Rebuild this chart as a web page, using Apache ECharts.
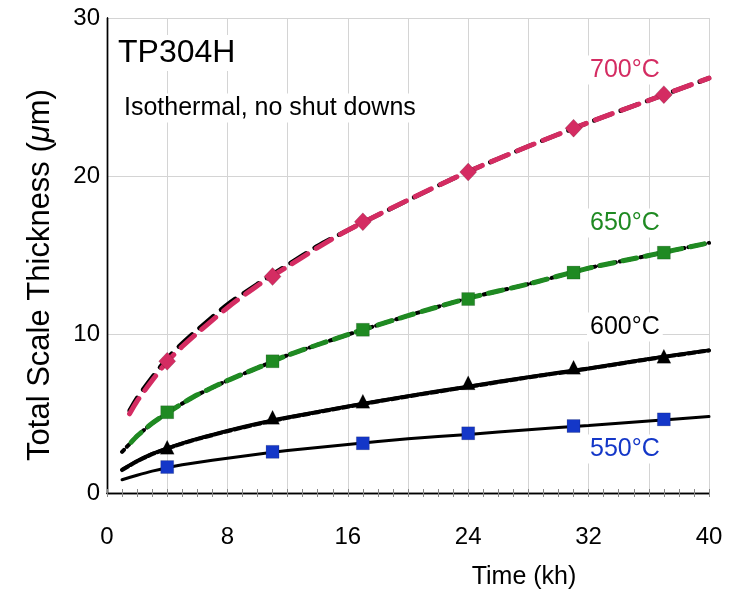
<!DOCTYPE html>
<html>
<head>
<meta charset="utf-8">
<script src="https://cdn.jsdelivr.net/npm/echarts@6/dist/echarts.min.js"></script>
<style>
  html, body { margin: 0; padding: 0; background: #fff; }
  #chart { width: 731px; height: 593px; }
</style>
</head>
<body>
<div id="chart"></div>
<script>
// Measured scale thickness (µm) of TP304H vs exposure time (kh)
const measTime = [4, 11, 17, 24, 31, 37];
const meas700 = [8.32, 13.67, 17.13, 20.27, 23.04, 25.16];
const meas650 = [5.1, 8.32, 10.31, 12.25, 13.92, 15.18];
const meas600 = [2.89, 4.78, 5.8, 6.96, 7.94, 8.64];
const meas550 = [1.64, 2.6, 3.14, 3.77, 4.23, 4.65];

// Fitted growth curves
const fitTime700 = [1.5, 2, 3, 4, 5, 6, 8, 10, 12, 14, 16, 20, 24, 28, 32, 36, 40];
const fit700 = [5.0, 5.8, 7.1, 8.3, 9.25, 10.1, 11.7, 13.1, 14.3, 15.5, 16.6, 18.5, 20.3, 21.9, 23.4, 24.8, 26.2];
const fit700b = [5.2, 6.0, 7.3, 8.5, 9.45, 10.3, 11.9, 13.2, 14.4, 15.6, 16.6, 18.5, 20.3, 21.9, 23.4, 24.8, 26.2];

const fitTime650 = [1.6, 2, 3, 4, 5, 6, 8, 10, 12, 16, 20, 24, 28, 32, 36, 40];
const fit650 = [3.2, 3.6, 4.4, 5.05, 5.65, 6.2, 7.1, 7.9, 8.7, 10.0, 11.2, 12.3, 13.2, 14.2, 15.0, 15.8];
const fitTime650b = [1, 1.6, 2, 3, 4, 5, 6, 8, 10, 12, 16, 20, 24, 28, 32, 36, 40];
const fit650b = [2.6, 3.2, 3.6, 4.4, 5.05, 5.65, 6.2, 7.1, 7.9, 8.7, 10.0, 11.2, 12.3, 13.2, 14.2, 15.0, 15.8];

const fitTime = [1, 2, 3, 4, 5, 6, 8, 10, 12, 16, 20, 24, 28, 32, 36, 40];
const fit600 = [1.5, 2.05, 2.5, 2.85, 3.17, 3.45, 3.95, 4.4, 4.8, 5.5, 6.15, 6.75, 7.35, 7.9, 8.5, 9.03];
const fit600b = [1.45, 2.0, 2.45, 2.8, 3.12, 3.4, 3.9, 4.35, 4.75, 5.45, 6.1, 6.7, 7.3, 7.85, 8.45, 9.0];
const fit550 = [0.84, 1.12, 1.38, 1.6, 1.78, 1.93, 2.2, 2.45, 2.68, 3.07, 3.42, 3.7, 4.0, 4.27, 4.55, 4.83];

const xTicks = [0, 8, 16, 24, 32, 40];
const yTicks = [0, 10, 20, 30];

const PINK = '#d42c62';
const GREEN = '#1f8a22';
const BLUE = '#1437c8';
const FONT = '"Liberation Sans", Arial, Helvetica, sans-serif';

const zip = (xs, ys) => xs.map((x, i) => [x, ys[i]]);

function curve(xs, ys, color, width, type, z, offset) {
  return {
    type: 'line', data: zip(xs, ys), symbol: 'none', smooth: 0.25,
    lineStyle: { color: color, width: width, type: type, cap: 'round', dashOffset: offset || 0 },
    z: z, silent: true
  };
}
function marks(ys, symbol, size, color) {
  return {
    type: 'scatter', data: zip(measTime, ys), symbol: symbol, symbolSize: size,
    itemStyle: { color: color, opacity: 1, borderColor: 'rgba(0,0,0,0.3)', borderWidth: 0.5 },
    z: 10, silent: true
  };
}
function tag(text, x, y, color, size) {
  return {
    type: 'text', x: x, y: y, z: 5,
    style: {
      text: text, fill: color, font: size + 'px ' + FONT,
      verticalAlign: 'middle', backgroundColor: '#fff', padding: [2, 3]
    }
  };
}

const chart = echarts.init(document.getElementById('chart'));
chart.setOption({
  backgroundColor: '#fff',
  animation: false,
  grid: { left: 107, right: 22, top: 18, bottom: 100, containLabel: false },
  xAxis: [{
    type: 'value', min: 0, max: 40, interval: 4,
    axisLine: { show: true, lineStyle: { color: '#000', width: 1.4 } },
    axisTick: { show: true, inside: true, length: 4, lineStyle: { color: '#888' } },
    minorTick: { show: true, splitNumber: 4, length: 4, lineStyle: { color: '#888' } },
    splitLine: { show: true, lineStyle: { color: '#d4d4d4', width: 1 } },
    axisLabel: {
      color: '#000', fontSize: 24, fontFamily: FONT, margin: 32,
      formatter: v => (xTicks.indexOf(v) >= 0 ? String(v) : '')
    }
  }, {
    type: 'value', min: 0, max: 40, interval: 4, position: 'top',
    axisLine: { show: true, lineStyle: { color: '#000', width: 1.4 } },
    axisTick: { show: true, inside: true, length: 4, lineStyle: { color: '#888' } },
    minorTick: { show: true, splitNumber: 4, length: 4, lineStyle: { color: '#888' } },
    splitLine: { show: false }, axisLabel: { show: false }
  }],
  yAxis: [{
    type: 'value', min: 0, max: 30, interval: 10,
    axisLine: { show: true, lineStyle: { color: '#000', width: 1.4 } },
    axisTick: { show: false },
    splitLine: { show: true, lineStyle: { color: '#d4d4d4', width: 1 } },
    axisLabel: {
      color: '#000', fontSize: 24, fontFamily: FONT, margin: 7,
      formatter: v => (yTicks.indexOf(v) >= 0 ? String(v) : '')
    }
  }, {
    type: 'value', min: 0, max: 30, interval: 10, position: 'right',
    axisLine: { show: true, lineStyle: { color: '#000', width: 1.4 } },
    axisTick: { show: false }, splitLine: { show: false }, axisLabel: { show: false }
  }],
  series: [
    curve(fitTime700, fit700b, '#000', 4.5, [18, 10], 3, 3),
    curve(fitTime700, fit700, PINK, 5, [18, 10], 4, 0),
    curve(fitTime650b, fit650b, '#000', 4, [3, 4], 3, 0),
    curve(fitTime650, fit650, GREEN, 5, [14, 9], 4, 0),
    curve(fitTime, fit600b, '#000', 4, [7, 3], 3, 0),
    curve(fitTime, fit600, '#000', 3, 'solid', 4, 0),
    curve(fitTime, fit550, '#000', 3, 'solid', 4, 0),
    marks(meas700, 'diamond', [17, 18], PINK),
    marks(meas650, 'rect', 13, GREEN),
    marks(meas600, 'triangle', 14, '#000'),
    marks(meas550, 'rect', 13, BLUE)
  ],
  graphic: [
    tag('TP304H', 115, 53, '#000', 32),
    tag('Isothermal, no shut downs', 121, 108, '#000', 25),
    tag('700°C', 587, 70, PINK, 25),
    tag('650°C', 587, 223, GREEN, 25),
    tag('600°C', 587, 327, '#000', 25),
    tag('550°C', 587, 449, BLUE, 25),
    {
      type: 'text', x: 524, y: 577,
      style: { text: 'Time (kh)', fill: '#000', font: '25px ' + FONT, align: 'center', verticalAlign: 'middle' }
    },
    {
      type: 'text', x: 40, y: 275, rotation: Math.PI / 2,
      style: {
        text: 'Total Scale Thickness ({i|μ}m)', fill: '#000', font: '31px ' + FONT,
        align: 'center', verticalAlign: 'middle',
        rich: { i: { fontStyle: 'italic', fontSize: 31, fontFamily: FONT, fill: '#000' } }
      }
    }
  ]
});
</script>
</body>
</html>
